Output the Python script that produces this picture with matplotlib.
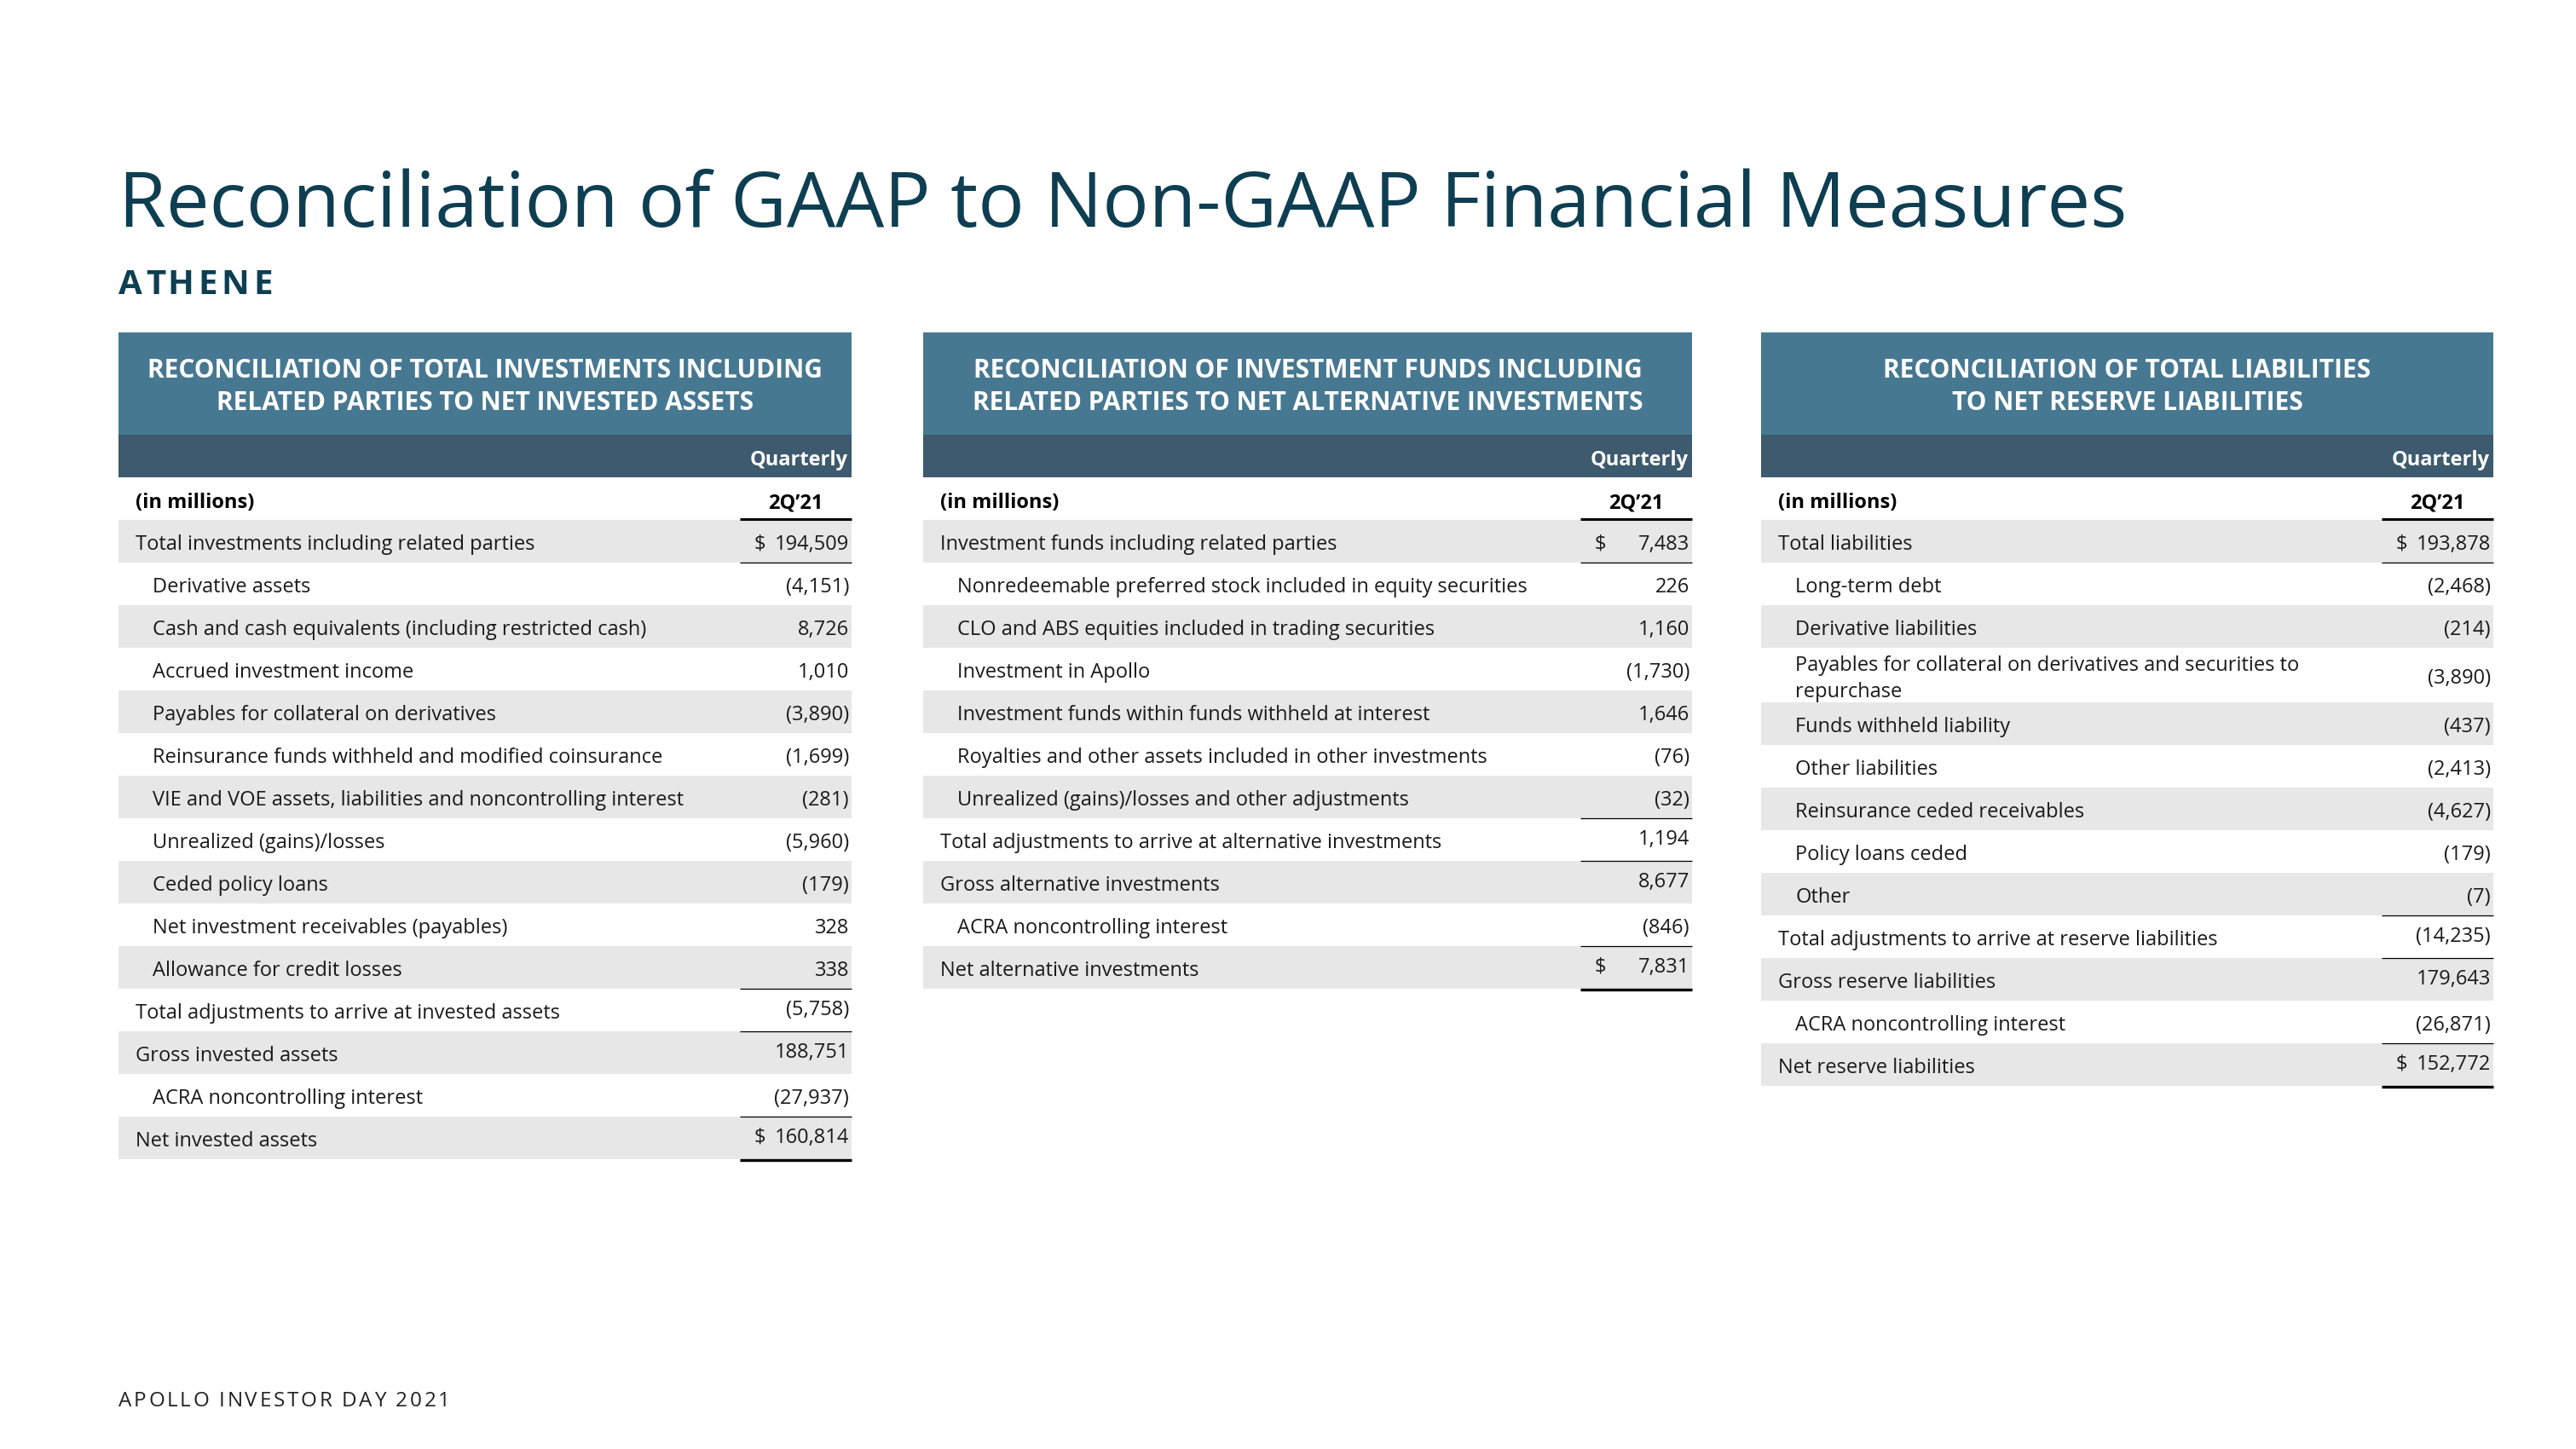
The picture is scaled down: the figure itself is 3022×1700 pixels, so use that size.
import matplotlib
matplotlib.use("Agg")
import matplotlib.pyplot as plt
from matplotlib.patches import Rectangle

plt.rcParams['font.family'] = ['Open Sans', 'DejaVu Sans']

# ---- data ----
title = "Reconciliation of GAAP to Non-GAAP Financial Measures"
subtitle = "ATHENE"
footer = "APOLLO INVESTOR DAY 2021"
unit_label = "(in millions)"
period_group = "Quarterly"
period = "2Q\u201921"

t1_title = ["RECONCILIATION OF TOTAL INVESTMENTS INCLUDING",
            "RELATED PARTIES TO NET INVESTED ASSETS"]
t1_labels = ["Total investments including related parties",
             "Derivative assets",
             "Cash and cash equivalents (including restricted cash)",
             "Accrued investment income",
             "Payables for collateral on derivatives",
             "Reinsurance funds withheld and modified coinsurance",
             "VIE and VOE assets, liabilities and noncontrolling interest",
             "Unrealized (gains)/losses",
             "Ceded policy loans",
             "Net investment receivables (payables)",
             "Allowance for credit losses",
             "Total adjustments to arrive at invested assets",
             "Gross invested assets",
             "ACRA noncontrolling interest",
             "Net invested assets"]
t1_values = [194509, -4151, 8726, 1010, -3890, -1699, -281, -5960, -179,
             328, 338, -5758, 188751, -27937, 160814]
t1_indent = [0, 1, 1, 1, 1, 1, 1, 1, 1, 1, 1, 0, 0, 1, 0]
t1_rules = [1, 11, 12, 14]

t2_title = ["RECONCILIATION OF INVESTMENT FUNDS INCLUDING",
            "RELATED PARTIES TO NET ALTERNATIVE INVESTMENTS"]
t2_labels = ["Investment funds including related parties",
             "Nonredeemable preferred stock included in equity securities",
             "CLO and ABS equities included in trading securities",
             "Investment in Apollo",
             "Investment funds within funds withheld at interest",
             "Royalties and other assets included in other investments",
             "Unrealized (gains)/losses and other adjustments",
             "Total adjustments to arrive at alternative investments",
             "Gross alternative investments",
             "ACRA noncontrolling interest",
             "Net alternative investments"]
t2_values = [7483, 226, 1160, -1730, 1646, -76, -32, 1194, 8677, -846, 7831]
t2_indent = [0, 1, 1, 1, 1, 1, 1, 0, 0, 1, 0]
t2_rules = [1, 7, 8, 10]

t3_title = ["RECONCILIATION OF TOTAL LIABILITIES",
            "TO NET RESERVE LIABILITIES"]
t3_labels = ["Total liabilities",
             "Long-term debt",
             "Derivative liabilities",
             "Payables for collateral on derivatives and securities to\nrepurchase",
             "Funds withheld liability",
             "Other liabilities",
             "Reinsurance ceded receivables",
             "Policy loans ceded",
             "Other",
             "Total adjustments to arrive at reserve liabilities",
             "Gross reserve liabilities",
             "ACRA noncontrolling interest",
             "Net reserve liabilities"]
t3_values = [193878, -2468, -214, -3890, -437, -2413, -4627, -179, -7,
             -14235, 179643, -26871, 152772]
t3_indent = [0, 1, 1, 1, 1, 1, 1, 1, 1, 0, 0, 1, 0]
t3_rules = [1, 9, 10, 12]

# ---- style ----
W, H = 3022, 1700
TITLE_C = "#0e3e52"
BAND1 = "#477892"
BAND2 = "#3d5a6e"
GRAY = "#e7e7e7"
TXT = "#1a1a1a"
ROW_H = 50
BODY = 17

fig = plt.figure(figsize=(W / 100, H / 100), dpi=100)
ax = fig.add_axes([0, 0, 1, 1])
ax.set_xlim(0, W)
ax.set_ylim(H, 0)
ax.axis("off")
renderer = fig.canvas.get_renderer()


def text_width(s, **kw):
    t = ax.text(0, 0, s, **kw)
    w = t.get_window_extent(renderer).width
    t.remove()
    return w


def fit_size(s, width, **kw):
    w = text_width(s, fontsize=50, **kw)
    return 50 * width / w


def spaced(x, y, s, width, size, **kw):
    # letter-spaced text, spread to the given width
    full = text_width(s, fontsize=size, **kw)
    gap = (width - full) / (len(s) - 1)
    for i, ch in enumerate(s):
        off = text_width(s[:i], fontsize=size, **kw) if i else 0
        ax.text(x + off + i * gap, y, ch, fontsize=size, va="baseline", ha="left", **kw)


def fmt(v):
    s = f"{abs(v):,}"
    return f"({s})" if v < 0 else s


ax.text(139, 266, title, fontsize=fit_size(title, 2355), color=TITLE_C,
        va="baseline", ha="left")
spaced(139, 345, subtitle, 181, 29, color=TITLE_C, fontweight="bold")
spaced(139, 1650, footer, 389, 17.5, color="#222222")


def table(left, right, head, labels, values, indent, rules, tall=()):
    vleft = right - 131
    cx = (left + right) / 2
    ax.add_patch(Rectangle((left, 390), right - left, 120, color=BAND1, lw=0))
    ax.add_patch(Rectangle((left, 510), right - left, 50, color=BAND2, lw=0))
    for k, line in enumerate(head):
        ax.text(cx, 443 + 38 * k, line, color="white", fontweight="bold",
                fontsize=21.5, ha="center", va="baseline")
    ax.text(right - 4, 546, period_group, color="white", fontweight="bold",
            fontsize=BODY, ha="right", va="baseline")
    ax.text(left + 20, 596, unit_label, color="black", fontweight="bold",
            fontsize=BODY, ha="left", va="baseline")
    ax.text(vleft + 65, 596, period, color="black", fontweight="bold",
            fontsize=BODY, ha="center", va="baseline")
    ax.plot([vleft, right], [609, 609], color="black", lw=2.2, solid_capstyle="butt")
    y = 610
    n = len(labels)
    for i in range(n):
        h = 64 if i in tall else ROW_H
        if i % 2 == 0:
            ax.add_patch(Rectangle((left, y), right - left, h, color=GRAY, lw=0))
        c = y + h / 2
        lines = labels[i].split("\n")
        for k, line in enumerate(lines):
            ax.text(left + 20 + 20 * indent[i], c + 10 + (k - (len(lines) - 1) / 2) * 31,
                    line, fontsize=BODY, color=TXT, ha="left", va="baseline")
        lift = 4 if (i in rules and i > 1) else 0
        ax.text(right - 3, c + 10 - lift, fmt(values[i]), fontsize=BODY, color=TXT,
                ha="right", va="baseline")
        if i == 0 or i == n - 1:
            ax.text(vleft + 16, c + 10 - lift, "$", fontsize=BODY, color=TXT,
                    ha="left", va="baseline")
        if i in rules:
            ax.plot([vleft, right], [y, y], color="black", lw=0.9, solid_capstyle="butt")
        y += h
    ax.plot([vleft, right], [y + 1, y + 1], color="black", lw=2.4, solid_capstyle="butt")


table(139, 999, t1_title, t1_labels, t1_values, t1_indent, t1_rules)
table(1083, 1985, t2_title, t2_labels, t2_values, t2_indent, t2_rules)
table(2066, 2925, t3_title, t3_labels, t3_values, t3_indent, t3_rules, tall=(3,))

fig.savefig("out.png", dpi=100, facecolor="white")
